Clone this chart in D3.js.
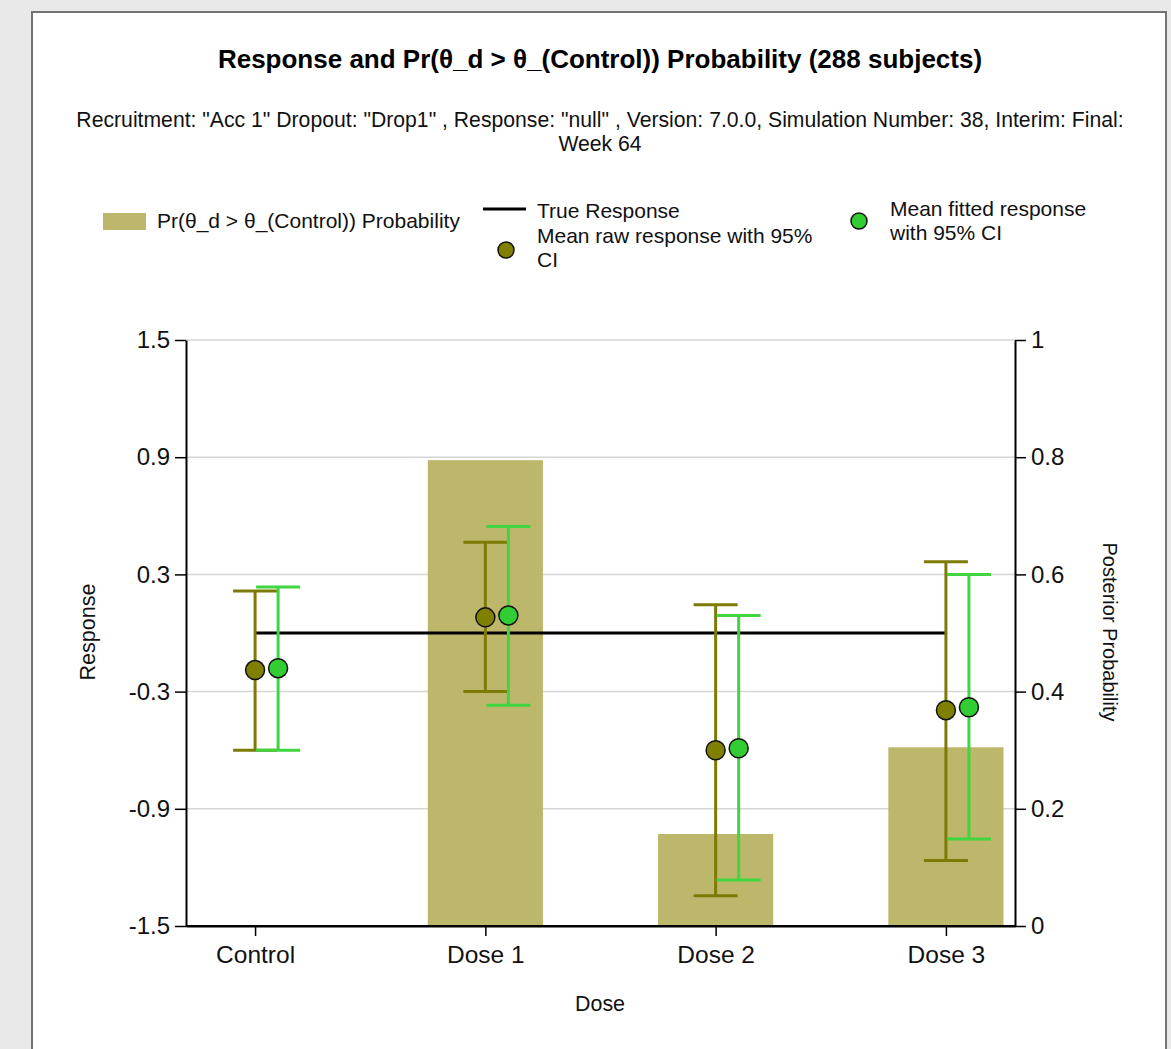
<!DOCTYPE html>
<html><head><meta charset="utf-8">
<script src="https://cdn.jsdelivr.net/npm/d3@7"></script>
<style>
body{margin:0;background:#e9e9e9;}
svg{display:block;font-family:"Liberation Sans",Arial,sans-serif;}
</style>
</head><body>
<svg id="chart" width="1171" height="1049"></svg>
<script>
// ---- data ----
const doses = ["Control", "Dose 1", "Dose 2", "Dose 3"];
const probability = [0, 0.795, 0.157, 0.305];
const trueResponse = [0, 0, 0, 0];
const rawMean  = [-0.19, 0.08, -0.60, -0.395];
const rawLower = [-0.60, -0.30, -1.345, -1.165];
const rawUpper = [0.215, 0.465, 0.145, 0.365];
const fitMean  = [-0.18, 0.09, -0.59, -0.38];
const fitLower = [-0.60, -0.37, -1.265, -1.055];
const fitUpper = [0.235, 0.545, 0.09, 0.30];
const responseTicks = [-1.5, -0.9, -0.3, 0.3, 0.9, 1.5];
const probTicks = [0, 0.2, 0.4, 0.6, 0.8, 1];

const titleText = "Response and Pr(θ_d > θ_(Control)) Probability (288 subjects)";
const subtitleLines = ["Recruitment: \"Acc 1\" Dropout: \"Drop1\" , Response: \"null\" , Version: 7.0.0, Simulation Number: 38, Interim: Final:", "Week 64"];
const legendProb = "Pr(θ_d > θ_(Control)) Probability";
const legendTrue = "True Response";
const legendRaw = ["Mean raw response with 95%", "CI"];
const legendFit = ["Mean fitted response", "with 95% CI"];

// ---- styles ----
const barColor = "#BDB76B", rawColor = "#808000", rawBarColor = "#7d7a05",
      fitColor = "#32CD32", fitBarColor = "#3fd63f";

const svg = d3.select("#chart");

// frame
svg.append("rect").attr("x", 32).attr("y", 12).attr("width", 1134).attr("height", 1100)
  .attr("fill", "#fff").attr("stroke", "#737373").attr("stroke-width", 2);

// scales
const x = d3.scalePoint().domain(doses).range([186, 1015]).padding(0.3);
const yL = d3.scaleLinear().domain([-1.5, 1.5]).range([926, 340]);
const yR = d3.scaleLinear().domain([0, 1]).range([926, 340]);
const barW = x.step() * 0.5;
const off = x.step() * 0.1;
const capHalf = 22;

// title
svg.append("text").attr("x", 600).attr("y", 68).attr("text-anchor", "middle")
  .attr("font-size", 26).attr("font-weight", "bold").attr("fill", "#000").text(titleText);
subtitleLines.forEach((t, i) => {
  svg.append("text").attr("x", 600).attr("y", 127 + i * 24).attr("text-anchor", "middle")
    .attr("font-size", 21.2).attr("fill", "#111").text(t);
});

// gridlines
svg.append("g").selectAll("line").data(responseTicks.slice(1)).join("line")
  .attr("x1", 186).attr("x2", 1015)
  .attr("y1", d => yL(d)).attr("y2", d => yL(d))
  .attr("stroke", "#d6d6d6").attr("stroke-width", 1.5);

// bars
svg.append("g").selectAll("rect").data(doses).join("rect")
  .attr("x", d => x(d) - barW / 2)
  .attr("width", barW)
  .attr("y", (d, i) => yR(probability[i]))
  .attr("height", (d, i) => yR(0) - yR(probability[i]))
  .attr("fill", barColor);

// true response line
svg.append("path")
  .datum(trueResponse)
  .attr("d", d3.line().x((d, i) => x(doses[i])).y(d => yL(d)))
  .attr("fill", "none").attr("stroke", "#000").attr("stroke-width", 3);

// error bars
function errorBars(lower, upper, dx, color) {
  const g = svg.append("g").attr("stroke", color).attr("stroke-width", 3);
  doses.forEach((d, i) => {
    const cx = x(d) + dx;
    g.append("line").attr("x1", cx).attr("x2", cx).attr("y1", yL(lower[i])).attr("y2", yL(upper[i]));
    g.append("line").attr("x1", cx - capHalf).attr("x2", cx + capHalf).attr("y1", yL(lower[i])).attr("y2", yL(lower[i]));
    g.append("line").attr("x1", cx - capHalf).attr("x2", cx + capHalf).attr("y1", yL(upper[i])).attr("y2", yL(upper[i]));
  });
}
errorBars(rawLower, rawUpper, 0, rawBarColor);
errorBars(fitLower, fitUpper, off, fitBarColor);

// points
svg.append("g").selectAll("circle").data(rawMean).join("circle")
  .attr("cx", (d, i) => x(doses[i])).attr("cy", d => yL(d)).attr("r", 9.5)
  .attr("fill", rawColor).attr("stroke", "#111").attr("stroke-width", 1.5);
svg.append("g").selectAll("circle").data(fitMean).join("circle")
  .attr("cx", (d, i) => x(doses[i]) + off).attr("cy", d => yL(d)).attr("r", 9.5)
  .attr("fill", fitColor).attr("stroke", "#111").attr("stroke-width", 1.5);

// axes
function styleAxis(g, fs) {
  g.select(".domain").attr("stroke", "#000").attr("stroke-width", 2);
  g.selectAll(".tick line").attr("stroke", "#000").attr("stroke-width", 1.5);
  g.selectAll(".tick text").attr("font-size", fs).attr("fill", "#111")
    .attr("font-family", '"Liberation Sans",Arial,sans-serif');
}
const gl = svg.append("g").attr("transform", "translate(186,0)")
  .call(d3.axisLeft(yL).tickValues(responseTicks).tickFormat(d => String(d)).tickSize(11).tickSizeOuter(0).tickPadding(5));
styleAxis(gl, 24);
const gr = svg.append("g").attr("transform", "translate(1015,0)")
  .call(d3.axisRight(yR).tickValues(probTicks).tickFormat(d => String(d)).tickSize(11).tickSizeOuter(0).tickPadding(5));
styleAxis(gr, 24);
const gb = svg.append("g").attr("transform", "translate(0,926)")
  .call(d3.axisBottom(x).tickSize(10).tickSizeOuter(0).tickPadding(9.5));
styleAxis(gb, 24.5);
// full bottom line
svg.append("line").attr("x1", 186).attr("x2", 1015).attr("y1", 926).attr("y2", 926)
  .attr("stroke", "#000").attr("stroke-width", 2);

// axis titles
svg.append("text").attr("transform", "translate(94.5,632) rotate(-90)").attr("text-anchor", "middle")
  .attr("font-size", 21.5).attr("fill", "#111").text("Response");
svg.append("text").attr("transform", "translate(1103,632) rotate(90)").attr("text-anchor", "middle")
  .attr("font-size", 20).attr("fill", "#111").text("Posterior Probability");
svg.append("text").attr("x", 600).attr("y", 1011).attr("text-anchor", "middle")
  .attr("font-size", 21.4).attr("fill", "#111").text("Dose");

// legend
const lg = svg.append("g").attr("font-size", 21).attr("fill", "#111");
lg.append("rect").attr("x", 103).attr("y", 213).attr("width", 43).attr("height", 17).attr("fill", barColor);
lg.append("text").attr("x", 157).attr("y", 228).text(legendProb);
lg.append("line").attr("x1", 483).attr("x2", 526).attr("y1", 209).attr("y2", 209)
  .attr("stroke", "#000").attr("stroke-width", 3);
lg.append("text").attr("x", 537).attr("y", 218).text(legendTrue);
lg.append("circle").attr("cx", 506).attr("cy", 250).attr("r", 8)
  .attr("fill", rawColor).attr("stroke", "#111").attr("stroke-width", 1.5);
legendRaw.forEach((t, i) => lg.append("text").attr("x", 537).attr("y", 243 + i * 24).text(t));
lg.append("circle").attr("cx", 859).attr("cy", 221).attr("r", 8)
  .attr("fill", fitColor).attr("stroke", "#111").attr("stroke-width", 1.5);
legendFit.forEach((t, i) => lg.append("text").attr("x", 890).attr("y", 216 + i * 24).text(t));
</script>
</body></html>
